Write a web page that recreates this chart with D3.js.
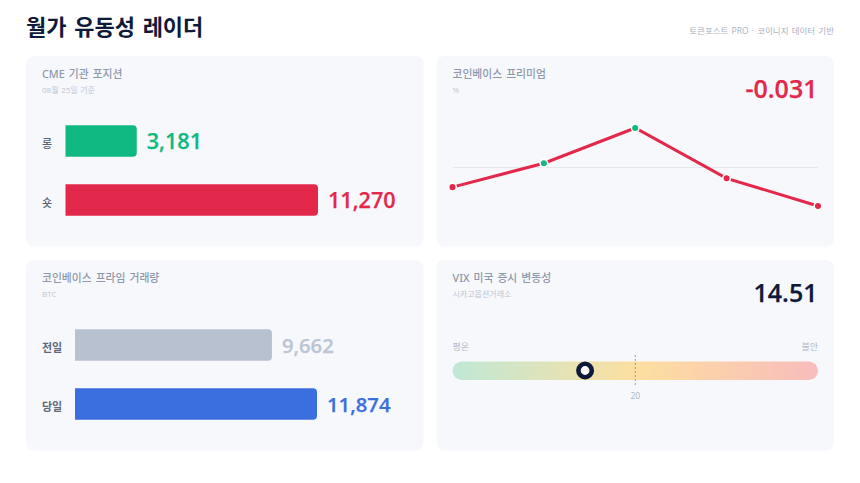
<!DOCTYPE html>
<html>
<head>
<meta charset="utf-8">
<script src="https://cdn.jsdelivr.net/npm/d3@7"></script>
<style>
  html, body { margin: 0; padding: 0; background: #fff; }
  text { font-family: "Open Sans", "Noto Sans CJK KR", sans-serif; }
  text.card-title { font-family: "Noto Sans", "Noto Sans CJK KR", sans-serif; }
</style>
</head>
<body>
<div id="viz"></div>
<script>
const cmeLabels = ["롱", "숏"];
const cmeValues = [3181, 11270];
const cmeColors = ["#10b981", "#e2284b"];

const volumeLabels = ["전일", "당일"];
const volumeValues = [9662, 11874];
const volumeColors = ["#b8c1d0", "#3b6fe0"];
const volumeTextColors = ["#bcc5d4", "#3b6fe0"];

const premiumValues = [-0.016, 0.003, 0.031, -0.009, -0.031];
const premiumLatest = "-0.031";

const vixValue = 14.51;
const vixDomain = [0, 40];
const vixTick = 20;

const width = 860, height = 483;
const svg = d3.select("#viz").append("svg")
  .attr("width", width).attr("height", height)
  .attr("viewBox", [0, 0, width, height])
  .style("display", "block");

const defs = svg.append("defs");
const grad = defs.append("linearGradient").attr("id", "vixGrad");
grad.append("stop").attr("offset", "0%").attr("stop-color", "#bfe8d6");
grad.append("stop").attr("offset", "50%").attr("stop-color", "#fddfa0");
grad.append("stop").attr("offset", "100%").attr("stop-color", "#f8bcbc");

// title row
svg.append("text").attr("x", 26).attr("y", 35)
  .attr("font-size", 22).attr("font-weight", 700).attr("fill", "#0f1a3a")
  .attr("word-spacing", 2)
  .text("월가 유동성 레이더");
svg.append("text").attr("x", 834).attr("y", 33.5).attr("text-anchor", "end")
  .attr("font-size", 8.5).attr("fill", "#a9b1c0").attr("word-spacing", 1)
  .text("토큰포스트 PRO · 코이니지 데이터 기반");

// cards
const cards = [
  {x: 26, y: 56, title: "CME 기관 포지션", sub: "08월 25일 기준"},
  {x: 436.5, y: 56, title: "코인베이스 프리미엄", sub: "%"},
  {x: 26, y: 260, title: "코인베이스 프라임 거래량", sub: "BTC"},
  {x: 436.5, y: 260, title: "VIX 미국 증시 변동성", sub: "시카고옵션거래소"}
];
const card = svg.selectAll("g.card").data(cards).enter().append("g")
  .attr("class", "card")
  .attr("transform", d => "translate(" + d.x + "," + d.y + ")");
card.append("rect").attr("width", 397.5).attr("height", 190.5).attr("rx", 8).attr("fill", "#f7f8fc");
card.append("text").attr("class", "card-title").attr("x", 16).attr("y", 22)
  .attr("font-size", 10.8).attr("font-weight", 500).attr("fill", "#8f98ab").attr("word-spacing", 1.2).text(d => d.title);
card.append("text").attr("x", 16).attr("y", 37)
  .attr("font-size", 8).attr("fill", "#c0c6d2").attr("word-spacing", 0.6).text(d => d.sub);

function barPath(x0, x1, y, h, r) {
  const p = d3.path();
  p.moveTo(x0, y);
  p.lineTo(x1 - r, y);
  p.arcTo(x1, y, x1, y + r, r);
  p.lineTo(x1, y + h - r);
  p.arcTo(x1, y + h, x1 - r, y + h, r);
  p.lineTo(x0, y + h);
  p.closePath();
  return p.toString();
}

function hbars(labels, values, colors, textColors, x, y, labelX, labelColor, labelWeight, valueSize) {
  const g = svg.append("g");
  const band = d3.scaleBand().domain(labels).range(y).padding(0);
  const barH = 31.5;
  g.selectAll("path").data(values).enter().append("path")
    .attr("d", (d, i) => barPath(x(0), x(d), band(labels[i]) + (band.bandwidth() - barH) / 2, barH, 4))
    .attr("fill", (d, i) => colors[i]);
  g.selectAll("text.lab").data(labels).enter().append("text").attr("class", "lab")
    .attr("x", labelX).attr("y", d => band(d) + band.bandwidth() / 2 + 6.5)
    .attr("font-size", 11).attr("font-weight", labelWeight).attr("fill", labelColor)
    .text(d => d);
  g.selectAll("text.val").data(values).enter().append("text").attr("class", "val")
    .attr("x", d => x(d) + 10).attr("y", (d, i) => band(labels[i]) + band.bandwidth() / 2 + 7.5)
    .attr("font-size", valueSize).attr("font-weight", 600).attr("fill", (d, i) => textColors[i])
    .attr("stroke", (d, i) => textColors[i]).attr("stroke-width", 0.25)
    .text(d => d3.format(",")(d));
}

// CME
hbars(cmeLabels, cmeValues, cmeColors, cmeColors,
  d3.scaleLinear().domain([0, 11270]).range([65.5, 318]),
  [111.5, 229.5], 42, "#5b6475", 500, 21.6);

// prime volume
hbars(volumeLabels, volumeValues, volumeColors, volumeTextColors,
  d3.scaleLinear().domain([0, 11874]).range([75, 317]),
  [315.5, 433.5], 42, "#5f6879", 700, 20.3);

// premium line
const px = d3.scalePoint().domain(d3.range(premiumValues.length)).range([452.5, 818]);
const py = d3.scaleLinear().domain([-0.031, 0.031]).range([206, 128]);
svg.append("line").attr("x1", px.range()[0]).attr("x2", px.range()[1])
  .attr("y1", py(0)).attr("y2", py(0)).attr("stroke", "#e5e7ee").attr("stroke-width", 1)
  .attr("shape-rendering", "crispEdges");
const line = d3.line().x((d, i) => px(i)).y(d => py(d));
svg.append("path").attr("d", line(premiumValues))
  .attr("fill", "none").attr("stroke", "#e2284b").attr("stroke-width", 3);
svg.selectAll("circle.pt").data(premiumValues).enter().append("circle").attr("class", "pt")
  .attr("cx", (d, i) => px(i)).attr("cy", d => py(d)).attr("r", 3.8)
  .attr("fill", d => d >= 0 ? "#10b981" : "#e2284b")
  .attr("stroke", "#fff").attr("stroke-width", 1.5);
svg.append("text").attr("x", 817.5).attr("y", 98).attr("text-anchor", "end")
  .attr("font-size", 25).attr("font-weight", 600).attr("fill", "#e2284b")
  .attr("stroke", "#e2284b").attr("stroke-width", 0.25).text(premiumLatest);

// VIX gauge
const vx = d3.scaleLinear().domain(vixDomain).range([452.5, 818]);
svg.append("rect").attr("x", vx(vixDomain[0])).attr("y", 361.5)
  .attr("width", vx(vixDomain[1]) - vx(vixDomain[0])).attr("height", 18.5).attr("rx", 9.25)
  .attr("fill", "url(#vixGrad)");
svg.append("line").attr("x1", vx(vixTick)).attr("x2", vx(vixTick)).attr("y1", 355).attr("y2", 387)
  .attr("stroke", "#8f98ab").attr("stroke-width", 1).attr("stroke-dasharray", "2,2");
svg.append("text").attr("x", vx(vixTick)).attr("y", 398.5).attr("text-anchor", "middle")
  .attr("font-size", 8.5).attr("fill", "#a9b1c0").text(vixTick);
svg.append("text").attr("x", 452.5).attr("y", 350).attr("font-size", 9).attr("fill", "#b4bbc8").text("평온");
svg.append("text").attr("x", 818).attr("y", 350).attr("text-anchor", "end").attr("font-size", 9).attr("fill", "#b4bbc8").text("불안");
svg.append("circle").attr("cx", vx(vixValue)).attr("cy", 370.5).attr("r", 6.7)
  .attr("fill", "#fff").attr("stroke", "#0f1a3a").attr("stroke-width", 4.6);
svg.append("text").attr("x", 817.5).attr("y", 302).attr("text-anchor", "end")
  .attr("font-size", 25).attr("font-weight", 600).attr("fill", "#0f1a3a")
  .attr("stroke", "#0f1a3a").attr("stroke-width", 0.25).text(vixValue);
</script>
</body>
</html>
